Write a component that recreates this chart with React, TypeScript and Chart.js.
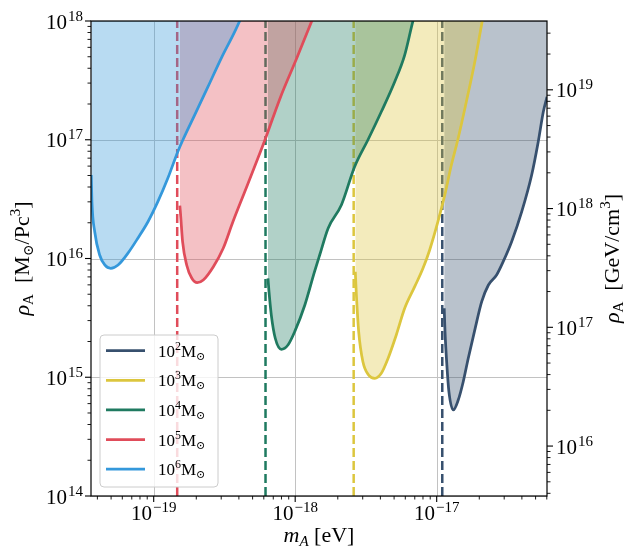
import React, { useEffect, useRef } from 'react';
import { Chart, registerables } from 'chart.js';

Chart.register(...registerables);

// ---------- axis ranges ----------
const X_MIN = 3.605e-20;
const X_MAX = 6.02e-17;
const Y_MIN = 1e14;
const Y_MAX = 1e18;
const GEV_PER_MSUN_PC3 = 37.97; // 1 Msun/pc^3 in GeV/cm^3

// ---------- tick labels ----------
const xMajorTicks = [1e-19, 1e-18, 1e-17];
const xTickExps = ['\u221219', '\u221218', '\u221217'];
const yMajorTicks = [1e14, 1e15, 1e16, 1e17, 1e18];
const yTickExps = ['14', '15', '16', '17', '18'];
const y2MajorTicks = [1e16, 1e17, 1e18, 1e19];
const y2TickExps = ['16', '17', '18', '19'];

// ---------- series ----------
const massExps = ['2', '3', '4', '5', '6'];
const lineColors = ['#37506e', '#dcc63e', '#1f7a60', '#e04c5a', '#3498db'];
const fillColors = [
  'rgba(55,80,110,0.35)',
  'rgba(220,198,62,0.35)',
  'rgba(31,122,96,0.35)',
  'rgba(224,76,90,0.35)',
  'rgba(52,152,219,0.35)',
];
// vertical dashed cut-offs for 10^2..10^5 Msun
const cutoffMasses = [1.095e-17, 2.59e-18, 6.17e-19, 1.466e-19];

// 10^2 Msun
const m2X = [1.13e-17, 1.145e-17, 1.18e-17, 1.22e-17, 1.31e-17, 1.42e-17, 1.54e-17, 1.67e-17, 1.87e-17, 2.08e-17, 2.32e-17, 2.65e-17, 2.95e-17, 3.39e-17, 3.99e-17, 4.69e-17, 5.22e-17, 5.67e-17, 6.02e-17, 6.3e-17];
const m2Y = [3.81e15, 2.42e15, 1.27e15, 7.56e14, 5.3e14, 6.43e14, 9.17e14, 1.44e15, 2.58e15, 4.33e15, 5.98e15, 7.26e15, 9.4e15, 1.39e16, 2.48e16, 5.05e16, 9.63e16, 1.72e17, 2.3e17, 2.9e17];
// 10^3 Msun
const m3X = [2.66e-18, 2.7e-18, 2.81e-18, 3.01e-18, 3.31e-18, 3.65e-18, 4.06e-18, 4.53e-18, 5.18e-18, 5.94e-18, 6.99e-18, 8.0e-18, 8.92e-18, 1.02e-17, 1.14e-17, 1.27e-17, 1.41e-17, 1.62e-17, 1.86e-17, 2.1e-17, 2.19e-17];
const m3Y = [7.74e15, 5.25e15, 2.42e15, 1.35e15, 1.04e15, 9.8e14, 1.08e15, 1.44e15, 2.27e15, 3.81e15, 5.79e15, 8.27e15, 1.18e16, 2.04e16, 3.42e16, 6.13e16, 1e17, 2.09e17, 4.54e17, 1e18, 1.29e18];
// 10^4 Msun
const m4X = [6.42e-19, 6.53e-19, 6.78e-19, 7.23e-19, 7.98e-19, 8.89e-19, 9.92e-19, 1.17e-18, 1.37e-18, 1.49e-18, 1.71e-18, 2.12e-18, 2.63e-18, 3.27e-18, 4.06e-18, 5.05e-18, 5.94e-18, 6.8e-18, 7.26e-18];
const m4Y = [6.81e15, 5.25e15, 3.34e15, 2.13e15, 1.72e15, 1.87e15, 2.42e15, 4.06e15, 7.74e15, 1.07e16, 1.8e16, 2.82e16, 5.93e16, 1e17, 1.72e17, 3.08e17, 5.17e17, 1e18, 1.29e18];
// 10^5 Msun
const m5X = [1.53e-19, 1.55e-19, 1.6e-19, 1.71e-19, 1.86e-19, 2.03e-19, 2.24e-19, 2.64e-19, 3.1e-19, 3.63e-19, 4.4e-19, 5.22e-19, 6.12e-19, 7.81e-19, 1.025e-18, 1.31e-18, 1.45e-18];
const m5Y = [2.79e16, 2.32e16, 1.39e16, 8.82e15, 6.81e15, 6.25e15, 6.59e15, 8.53e15, 1.22e16, 2.04e16, 3.65e16, 6.13e16, 1e17, 2.23e17, 4.85e17, 1e18, 1.36e18];
// 10^6 Msun
const m6X = [3.62e-20, 3.66e-20, 3.83e-20, 4.15e-20, 4.51e-20, 4.97e-20, 5.6e-20, 6.58e-20, 7.75e-20, 9.11e-20, 1.07e-19, 1.26e-19, 1.48e-19, 1.61e-19, 1.95e-19, 2.42e-19, 3.0e-19, 3.74e-19, 4.05e-19, 4.42e-19];
const m6Y = [5.05e16, 3.01e16, 1.68e16, 1.07e16, 8.82e15, 8.27e15, 8.82e15, 1.11e16, 1.49e16, 2.04e16, 3.01e16, 4.76e16, 7.93e16, 1e17, 1.62e17, 2.8e17, 4.85e17, 8.13e17, 1e18, 1.3e18];

const seriesX = [m2X, m3X, m4X, m5X, m6X];
const seriesY = [m2Y, m3Y, m4Y, m5Y, m6Y];

// ---------- text helpers ----------
const FAMILY = '"Liberation Serif", "DejaVu Serif", serif';
type Seg = { t: string; size: number; dy?: number; dx?: number; italic?: boolean };
const fontOf = (s: Seg) => `${s.italic ? 'italic ' : ''}${s.size}px ${FAMILY}`;
function richWidth(ctx: CanvasRenderingContext2D, segs: Seg[]) {
  let w = 0;
  for (const s of segs) {
    ctx.font = fontOf(s);
    w += ctx.measureText(s.t).width + (s.dx || 0);
  }
  return w;
}
function drawRich(ctx: CanvasRenderingContext2D, segs: Seg[], x: number, y: number, align: 'left' | 'center' | 'right') {
  const w = richWidth(ctx, segs);
  let cx = align === 'left' ? x : align === 'center' ? x - w / 2 : x - w;
  ctx.textAlign = 'left';
  ctx.textBaseline = 'alphabetic';
  for (const s of segs) {
    ctx.font = fontOf(s);
    cx += s.dx || 0;
    ctx.fillText(s.t, cx, y + (s.dy || 0));
    cx += ctx.measureText(s.t).width;
  }
}
const tickLabel = (exp: string): Seg[] => [
  { t: '10', size: 21 },
  { t: exp, size: 15, dy: -8, dx: 1 },
];

function minorValues(lo: number, hi: number) {
  const out: number[] = [];
  for (let e = Math.floor(Math.log10(lo)); e <= Math.ceil(Math.log10(hi)); e++) {
    for (let k = 2; k <= 9; k++) {
      const v = k * Math.pow(10, e);
      if (v >= lo && v <= hi) out.push(v);
    }
  }
  return out;
}

const decorPlugin = {
  id: 'decor',
  beforeDatasetsDraw(chart: any) {
    const { ctx, chartArea: a, scales } = chart;
    ctx.save();
    ctx.strokeStyle = '#c2c2c2';
    ctx.lineWidth = 1;
    for (const v of xMajorTicks) {
      const px = Math.round(scales.x.getPixelForValue(v)) + 0.5;
      ctx.beginPath(); ctx.moveTo(px, a.top); ctx.lineTo(px, a.bottom); ctx.stroke();
    }
    for (const v of yMajorTicks) {
      const py = Math.round(scales.y.getPixelForValue(v)) + 0.5;
      ctx.beginPath(); ctx.moveTo(a.left, py); ctx.lineTo(a.right, py); ctx.stroke();
    }
    ctx.restore();
  },
  afterDraw(chart: any) {
    const { ctx, chartArea: a, scales } = chart;
    const sx = scales.x, sy = scales.y, sy2 = scales.y2;
    ctx.save();
    ctx.fillStyle = '#000';
    ctx.strokeStyle = '#000';

    // frame
    ctx.lineWidth = 1.2;
    ctx.strokeRect(a.left, a.top, a.right - a.left, a.bottom - a.top);

    // ticks
    const MAJ = 6, MIN = 3.5;
    ctx.lineWidth = 1.1;
    const tick = (x1: number, y1: number, x2: number, y2: number) => {
      ctx.beginPath(); ctx.moveTo(x1, y1); ctx.lineTo(x2, y2); ctx.stroke();
    };
    for (const v of xMajorTicks) { const p = sx.getPixelForValue(v); tick(p, a.bottom, p, a.bottom + MAJ); }
    for (const v of yMajorTicks) { const p = sy.getPixelForValue(v); tick(a.left, p, a.left - MAJ, p); }
    for (const v of y2MajorTicks) { const p = sy2.getPixelForValue(v); tick(a.right, p, a.right + MAJ, p); }
    ctx.lineWidth = 0.9;
    for (const v of minorValues(X_MIN, X_MAX)) { const p = sx.getPixelForValue(v); tick(p, a.bottom, p, a.bottom + MIN); }
    for (const v of minorValues(Y_MIN, Y_MAX)) { const p = sy.getPixelForValue(v); tick(a.left, p, a.left - MIN, p); }
    for (const v of minorValues(Y_MIN * GEV_PER_MSUN_PC3, Y_MAX * GEV_PER_MSUN_PC3)) {
      const p = sy2.getPixelForValue(v); tick(a.right, p, a.right + MIN, p);
    }

    // tick labels
    xMajorTicks.forEach((v, i) => {
      drawRich(ctx, tickLabel(xTickExps[i]), sx.getPixelForValue(v), a.bottom + 23.5, 'center');
    });
    yMajorTicks.forEach((v, i) => {
      drawRich(ctx, tickLabel(yTickExps[i]), a.left - 8, sy.getPixelForValue(v) + 7.5, 'right');
    });
    y2MajorTicks.forEach((v, i) => {
      drawRich(ctx, tickLabel(y2TickExps[i]), a.right + 9, sy2.getPixelForValue(v) + 7.5, 'left');
    });

    // axis titles
    const cxm = (a.left + a.right) / 2;
    const cym = (a.top + a.bottom) / 2;
    drawRich(ctx, [
      { t: 'm', size: 22, italic: true },
      { t: 'A', size: 15, italic: true, dy: 4 },
      { t: ' [eV]', size: 22 },
    ], cxm, 542, 'center');

    ctx.save();
    ctx.translate(29, cym);
    ctx.rotate(-Math.PI / 2);
    drawRich(ctx, [
      { t: '\u03c1', size: 22, italic: true },
      { t: 'A', size: 15, dy: 4 },
      { t: '  [M', size: 22 },
      { t: '\u2299', size: 14, dy: 4 },
      { t: '/Pc', size: 22 },
      { t: '3', size: 15, dy: -9 },
      { t: ']', size: 22 },
    ], 0, 0, 'center');
    ctx.restore();

    ctx.save();
    ctx.translate(619, cym);
    ctx.rotate(-Math.PI / 2);
    drawRich(ctx, [
      { t: '\u03c1', size: 22, italic: true },
      { t: 'A', size: 15, dy: 4 },
      { t: '  [GeV/cm', size: 22 },
      { t: '3', size: 15, dy: -9 },
      { t: ']', size: 22 },
    ], 0, 0, 'center');
    ctx.restore();

    // legend
    const lx = 100, ly = 335, lw = 118, lh = 152, r = 4;
    ctx.beginPath();
    ctx.moveTo(lx + r, ly);
    ctx.arcTo(lx + lw, ly, lx + lw, ly + lh, r);
    ctx.arcTo(lx + lw, ly + lh, lx, ly + lh, r);
    ctx.arcTo(lx, ly + lh, lx, ly, r);
    ctx.arcTo(lx, ly, lx + lw, ly, r);
    ctx.closePath();
    ctx.fillStyle = 'rgba(255,255,255,0.8)';
    ctx.fill();
    ctx.strokeStyle = 'rgba(204,204,204,1)';
    ctx.lineWidth = 1;
    ctx.stroke();
    massExps.forEach((e, i) => {
      const ry = 350.7 + i * 29.6;
      ctx.strokeStyle = lineColors[i];
      ctx.lineWidth = 2.75;
      ctx.beginPath(); ctx.moveTo(106, ry); ctx.lineTo(145, ry); ctx.stroke();
      ctx.fillStyle = '#000';
      drawRich(ctx, [
        { t: '10', size: 17 },
        { t: e, size: 12, dy: -7 },
        { t: 'M', size: 17 },
        { t: '\u2299', size: 11, dy: 3 },
      ], 158, ry + 6, 'left');
    });

    ctx.restore();
  },
};

export default function App() {
  const ref = useRef<HTMLCanvasElement>(null);
  useEffect(() => {
    if (!ref.current) return;
    const datasets: any[] = [];
    // draw order: 10^2 first (bottom), 10^6 last (top)
    seriesX.forEach((xs, i) => {
      datasets.push({
        label: `10^${massExps[i]} Msun`,
        data: xs.map((x, j) => ({ x, y: seriesY[i][j] })),
        borderColor: lineColors[i],
        backgroundColor: fillColors[i],
        borderWidth: 2.75,
        pointRadius: 0,
        fill: 'end',
        cubicInterpolationMode: 'monotone',
        order: 20 - i * 2,
        yAxisID: 'y',
        clip: 0,
      });
      if (i < cutoffMasses.length) {
        datasets.push({
          label: `cut ${massExps[i]}`,
          data: [{ x: cutoffMasses[i], y: Y_MIN }, { x: cutoffMasses[i], y: Y_MAX }],
          borderColor: lineColors[i],
          borderWidth: 2.5,
          borderDash: [9, 4],
          pointRadius: 0,
          fill: false,
          order: 19 - i * 2,
          yAxisID: 'y',
          clip: 0,
        });
      }
    });
    const hidden = {
      ticks: { display: false },
      grid: { display: false, drawTicks: false },
      border: { display: false },
    };
    const chart = new Chart(ref.current, {
      type: 'line',
      data: { datasets },
      options: {
        animation: false,
        responsive: false,
        devicePixelRatio: 1,
        layout: { padding: { top: 21, left: 0, right: 0, bottom: 0 } },
        plugins: { legend: { display: false }, tooltip: { enabled: false } },
        scales: {
          x: { type: 'logarithmic', min: X_MIN, max: X_MAX, ...hidden, afterFit: (s: any) => { s.height = 52; } },
          y: { type: 'logarithmic', position: 'left', min: Y_MIN, max: Y_MAX, ...hidden, afterFit: (s: any) => { s.width = 91; } },
          y2: {
            type: 'logarithmic', position: 'right',
            min: Y_MIN * GEV_PER_MSUN_PC3, max: Y_MAX * GEV_PER_MSUN_PC3,
            ...hidden, afterFit: (s: any) => { s.width = 81; },
          },
        },
      } as any,
      plugins: [decorPlugin],
    });
    return () => chart.destroy();
  }, []);
  return (
    <div style={{ position: 'fixed', left: 0, top: 0, width: 628, height: 548, background: '#fff' }}>
      <canvas ref={ref} width={628} height={548} style={{ display: 'block', width: 628, height: 548 }} />
    </div>
  );
}
